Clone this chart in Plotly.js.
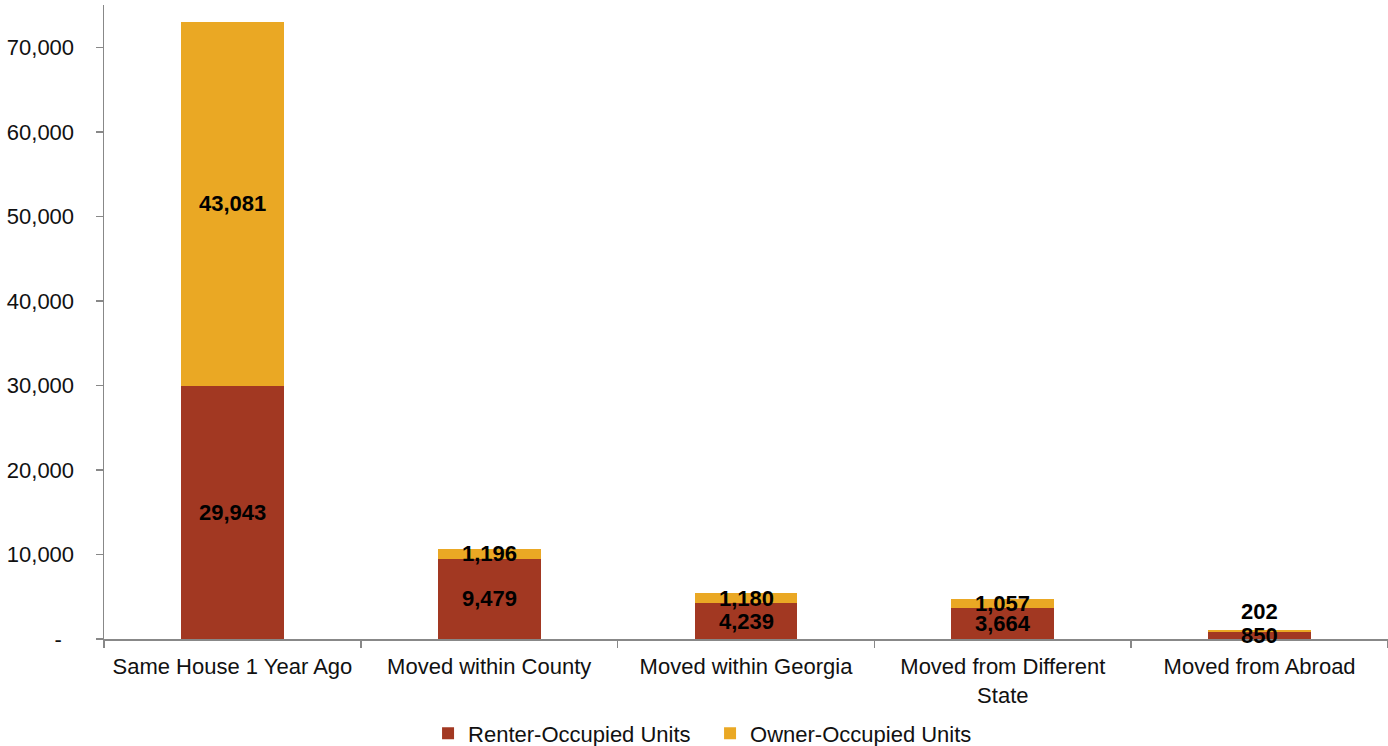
<!DOCTYPE html>
<html>
<head>
<meta charset="utf-8">
<script src="https://cdn.plot.ly/plotly-3.0.1.min.js"></script>
<style>html,body{margin:0;padding:0;background:#fff;}#chart{width:1388px;height:746px;}</style>
</head>
<body>
<div id="chart"></div>
<script>
const categories = ["Same House 1 Year Ago", "Moved within County", "Moved within Georgia", "Moved from Different<br>State", "Moved from Abroad"];
const renterUnits = [29943, 9479, 4239, 3664, 850];
const ownerUnits = [43081, 1196, 1180, 1057, 202];
const yTickVals = [0, 10000, 20000, 30000, 40000, 50000, 60000, 70000];
const yTickText = ["-\u00a0\u00a0", "10,000", "20,000", "30,000", "40,000", "50,000", "60,000", "70,000"];
const seriesNames = ["Renter-Occupied Units", "Owner-Occupied Units"];

const FONT = "Liberation Sans, Arial, sans-serif";
const fmt = v => v.toLocaleString("en-US");

const traces = [
  {type: "bar", name: seriesNames[0], x: categories, y: renterUnits,
   marker: {color: "#A23822"}, hoverinfo: "y"},
  {type: "bar", name: seriesNames[1], x: categories, y: ownerUnits,
   marker: {color: "#EAA824"}, hoverinfo: "y"}
];

const annotations = [];
categories.forEach((c, i) => {
  annotations.push({x: c, y: renterUnits[i] / 2, text: "<b>" + fmt(renterUnits[i]) + "</b>",
    showarrow: false, font: {family: FONT, size: 22, color: "#000"}});
  // small segments: push the label above when it would collide
  const small = ownerUnits[i] < 600;
  annotations.push({x: c, y: renterUnits[i] + ownerUnits[i] / 2, text: "<b>" + fmt(ownerUnits[i]) + "</b>",
    showarrow: false, yshift: small ? 19 : 0, font: {family: FONT, size: 22, color: "#000"}});
});

const layout = {
  width: 1388, height: 746,
  margin: {l: 104, r: 0, t: 5, b: 107, autoexpand: false},
  paper_bgcolor: "#fff", plot_bgcolor: "#fff",
  barmode: "stack", bargap: 0.6,
  font: {family: FONT, size: 22, color: "#111"},
  showlegend: true,
  legend: {orientation: "h", traceorder: "normal", xref: "paper", x: 0.472, xanchor: "center", y: -0.149, yanchor: "middle",
           font: {family: FONT, size: 22, color: "#111"}, itemwidth: 30, tracegroupgap: 0,
           entrywidth: 237, entrywidthmode: "pixels"},
  xaxis: {type: "category", showline: true, linecolor: "#888", linewidth: 1.5,
          ticks: "outside", tickson: "boundaries", ticklen: 7, tickcolor: "#888", tickwidth: 1.5,
          ticklabelstandoff: 7,
          tickfont: {family: FONT, size: 22, color: "#111"}, showgrid: false, zeroline: false,
          fixedrange: true},
  yaxis: {range: [0, 75000], tickvals: yTickVals, ticktext: yTickText,
          showline: true, linecolor: "#888", linewidth: 1.5,
          ticks: "outside", ticklen: 7, tickcolor: "#888", tickwidth: 1.5,
          ticklabelstandoff: 17,
          tickfont: {family: FONT, size: 22, color: "#111"}, showgrid: false, zeroline: false},
  annotations: annotations
};

Plotly.newPlot("chart", traces, layout, {displayModeBar: false, staticPlot: true});
</script>
</body>
</html>
